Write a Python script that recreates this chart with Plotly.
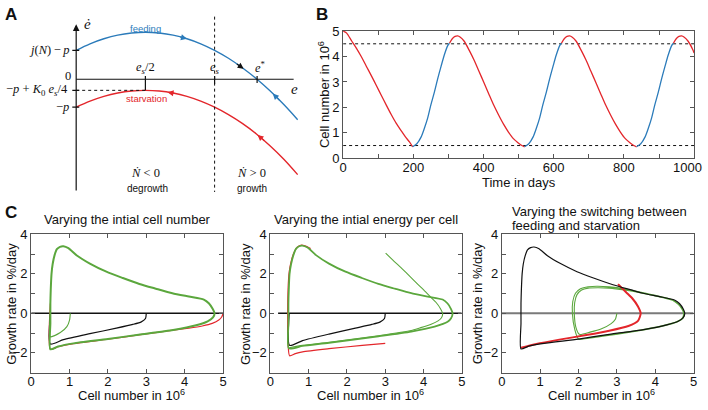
import numpy as np
import plotly.graph_objects as go

W, H = 708, 410
FONT = "Liberation Sans, Arial, Helvetica, sans-serif"
SERIF = "Liberation Serif, DejaVu Serif, serif"
RED = "#e3262b"
BLUE = "#2b7bba"
GREEN = "#5ba73d"
BLACK = "#111111"
FRAME = "#555555"
GREY = "#7a7a7a"

# ---------------- Panel A (schematic phase plane) ----------------
A_e = [0.0, 0.1, 0.2, 0.3, 0.4, 0.5, 0.6, 0.7, 0.8, 0.9, 1.0, 1.1, 1.2, 1.3, 1.4, 1.5, 1.6]
A_feed = [30, 36.8, 42, 45.8, 48, 48.8, 48, 45.8, 42, 36.8, 30, 21.8, 12, 0.8, -12, -26.3, -42]
A_starv = [-29, -22.7, -17.8, -14.3, -12.2, -11.5, -12.2, -14.3, -17.8, -22.7, -29, -36.7, -45.8, -56.5, -69, -83, -99]
A_es = 1.0          # e_s
A_estar = 1.307     # e*
A_jp = 30           # j(N)-p
A_mp = -29          # -p
A_peak = -11.5      # -p + K0 es/4

# ---------------- Panel B (cell number vs time) ----------------
B_starv_t = [0, 10, 24, 38, 52, 66, 81, 95, 109, 123, 137, 151, 165, 177, 189, 198, None,
             303, 311, 319, 326, 334, 345, 359, 373, 387, 401, 415, 429, 443, 457, 471, 485, 499, 509, 517, None,
             622, 630, 638, 645, 653, 664, 678, 692, 706, 720, 734, 748, 762, 776, 790, 804, 818, 828, 836, None,
             941, 949, 957, 964, 972, 983, 997, 1000]
B_starv_N = [5.0, 4.92, 4.62, 4.32, 3.99, 3.62, 3.23, 2.85, 2.47, 2.09, 1.72, 1.38, 1.09, 0.85, 0.64, 0.45, None,
             4.52, 4.7, 4.79, 4.81, 4.76, 4.6, 4.25, 3.86, 3.42, 2.98, 2.53, 2.09, 1.7, 1.34, 1.03, 0.77, 0.6, 0.5, 0.45, None,
             4.52, 4.7, 4.79, 4.81, 4.76, 4.6, 4.25, 3.86, 3.42, 2.98, 2.53, 2.09, 1.7, 1.34, 1.03, 0.77, 0.6, 0.5, 0.45, None,
             4.52, 4.7, 4.79, 4.81, 4.76, 4.6, 4.25, 4.14]
B_feed_t = [198, 210, 222, 232, 241, 250, 260, 269, 279, 288, 298, 303, None,
            517, 529, 541, 551, 560, 569, 579, 588, 598, 607, 617, 622, None,
            836, 848, 860, 870, 879, 888, 898, 907, 917, 926, 936, 941]
B_feed_N = [0.45, 0.57, 0.83, 1.2, 1.59, 2.1, 2.6, 3.1, 3.61, 4.05, 4.43, 4.52, None,
            0.45, 0.57, 0.83, 1.2, 1.59, 2.1, 2.6, 3.1, 3.61, 4.05, 4.43, 4.52, None,
            0.45, 0.57, 0.83, 1.2, 1.59, 2.1, 2.6, 3.1, 3.61, 4.05, 4.43, 4.52]
B_thresholds = [0.5, 4.5]
B_xticks = [0, 100, 200, 300, 400, 500, 600, 700, 800, 900, 1000]
B_xtext = ["0", "", "200", "", "400", "", "600", "", "800", "", ""]
B_last_label = "1000"
B_yticks = [0, 1, 2, 3, 4, 5]

# ---------------- Panel C ----------------
C_xticks = [0, 1, 2, 3, 4, 5]
C_yticks = [-3, -2, -1, 0, 1, 2, 3, 4]
C_ytext = ["", "\u22122", "", "0", "", "2", "", "4"]

# C1: varying initial cell number
C1_cycle_x = [0.50, 0.50, 0.50, 0.51, 0.53, 0.56, 0.61, 0.67, 0.75, 0.84, 0.97, 1.19, 1.53, 1.96, 2.39, 2.82, 3.25,
              3.68, 4.11, 4.50, 4.63, 4.73, 4.78, 4.74, 4.60, 4.30, 3.70, 2.80, 2.00, 1.10, 0.70, 0.50]
C1_cycle_y = [-1.82, -0.50, 0.50, 1.20, 2.00, 2.50, 2.95, 3.25, 3.37, 3.40, 3.30, 2.93, 2.52, 2.11, 1.79, 1.49, 1.25,
              1.02, 0.85, 0.70, 0.51, 0.23, 0.00, -0.20, -0.40, -0.60, -0.84, -1.08, -1.30, -1.52, -1.68, -1.82]
C1_red_x = [5.00, 4.97, 4.89, 4.72, 4.46, 4.11, 3.70, 2.80, 2.00, 1.10, 0.70, 0.50, 0.50]
C1_red_y = [0.00, -0.17, -0.34, -0.51, -0.64, -0.75, -0.85, -1.09, -1.31, -1.53, -1.69, -1.82, 0.50]
C1_black_x = [3.00, 2.98, 2.87, 2.65, 2.22, 1.53, 0.84, 0.50, 0.50]
C1_black_y = [0.00, -0.26, -0.43, -0.56, -0.75, -1.03, -1.33, -1.55, 0.00]
C1_thin_x = [1.02, 1.00, 0.93, 0.76, 0.50, 0.50]
C1_thin_y = [0.00, -0.34, -0.67, -0.97, -1.18, 0.00]
C1_zero_x = [0, 5]

# C2: varying initial energy per cell
C2_cycle_x = [0.48, 0.47, 0.47, 0.48, 0.50, 0.54, 0.60, 0.67, 0.75, 0.83, 0.97, 1.19, 1.53, 1.96, 2.39, 2.82, 3.25,
              3.68, 4.11, 4.50, 4.63, 4.72, 4.76, 4.72, 4.63, 4.29, 3.68, 2.82, 1.53, 0.84, 0.48]
C2_cycle_y = [-1.77, -0.50, 0.50, 1.20, 2.00, 2.50, 2.95, 3.28, 3.40, 3.43, 3.33, 2.95, 2.52, 2.11, 1.79, 1.49, 1.25,
              1.02, 0.85, 0.70, 0.50, 0.22, 0.00, -0.25, -0.43, -0.67, -0.92, -1.16, -1.49, -1.65, -1.77]
C2_thin_x = [3.01, 3.20, 3.43, 3.65, 3.86, 4.05, 4.20, 4.33, 4.44, 4.50, 4.47, 4.38, 4.20, 3.90, 3.68, 2.82, 1.53, 0.84, 0.49]
C2_thin_y = [3.05, 2.70, 2.28, 1.86, 1.46, 1.10, 0.80, 0.55, 0.25, 0.00, -0.22, -0.38, -0.55, -0.74, -0.87, -1.13, -1.46, -1.62, -1.74]
C2_red_x = [3.00, 2.40, 1.53, 0.84, 0.65, 0.50, 0.46, 0.45, 0.46, 0.49, 0.55, 0.62, 0.70, 0.79, 0.90, 1.05]
C2_red_y = [-1.52, -1.62, -1.79, -1.95, -2.04, -2.15, -1.50, 0.00, 1.20, 2.10, 2.70, 3.10, 3.35, 3.45, 3.42, 3.28]
C2_black_x = [3.00, 2.98, 2.87, 2.65, 2.22, 1.53, 0.84, 0.50, 0.49]
C2_black_y = [0.00, -0.26, -0.43, -0.56, -0.75, -1.05, -1.38, -1.62, 0.00]
C2_zero_x = [0.2, 5]

# C3: varying the switching between feeding and starvation
C3_black_x = [0.50, 0.50, 0.50, 0.51, 0.53, 0.56, 0.61, 0.67, 0.75, 0.84, 0.97, 1.19, 1.53, 1.96, 2.39, 2.82, 3.25,
              3.68, 4.11, 4.50, 4.63, 4.73, 4.77, 4.73, 4.60, 4.30, 3.70, 2.80, 2.00, 1.10, 0.70, 0.50]
C3_black_y = [-1.80, -0.50, 0.50, 1.20, 2.00, 2.50, 2.92, 3.22, 3.33, 3.36, 3.27, 2.92, 2.52, 2.11, 1.79, 1.50, 1.25,
              1.02, 0.85, 0.68, 0.50, 0.22, 0.00, -0.22, -0.40, -0.58, -0.82, -1.06, -1.30, -1.52, -1.66, -1.80]
C3_red_x = [3.03, 3.24, 3.41, 3.55, 3.62, 3.55, 3.30, 2.80, 2.20, 1.50, 0.90, 0.50]
C3_red_y = [1.48, 1.07, 0.74, 0.35, 0.00, -0.38, -0.64, -0.88, -1.10, -1.33, -1.55, -1.74]
C3_green_x = [3.00, 2.96, 2.85, 2.60, 2.30, 2.02, 1.93, 1.89, 1.90, 1.96, 2.08, 2.25, 2.50, 2.80, 3.20, 3.60, 4.00,
              4.45, 4.60, 4.70, 4.74, 4.70, 4.55, 4.20, 3.60, 3.00, 2.40, 2.00, 1.90, 1.84, 1.85, 1.92, 2.05, 2.25,
              2.50, 2.80, 3.20, 3.60, 4.00, 4.45, 4.62, 4.72, 4.76, 4.72, 4.57, 4.22, 3.62, 3.02, 2.42, 2.02]
C3_green_y = [0.00, -0.30, -0.52, -0.78, -0.95, -1.06, -0.70, 0.00, 0.55, 0.95, 1.18, 1.28, 1.30, 1.28, 1.18, 1.04, 0.88,
              0.66, 0.45, 0.20, 0.00, -0.25, -0.43, -0.62, -0.85, -1.03, -1.20, -1.30, -0.80, 0.00, 0.60, 1.02, 1.25, 1.35,
              1.37, 1.34, 1.24, 1.08, 0.91, 0.69, 0.46, 0.20, 0.00, -0.25, -0.44, -0.64, -0.87, -1.05, -1.22, -1.32]
C3_zero_x = [0, 5]


def px(x):
    return x / W


def py(y):
    return 1 - y / H


fig = go.Figure()


def add_line(xs, ys, color, width, xa, ya, dash=None, shape="spline", smoothing=0.6):
    fig.add_trace(go.Scatter(x=xs, y=ys, mode="lines", xaxis=xa, yaxis=ya, hoverinfo="skip",
                             connectgaps=False,
                             line=dict(color=color, width=width, dash=dash, shape=shape, smoothing=smoothing)))


# ---- Panel A traces ----
add_line(A_e, A_feed, BLUE, 1.4, "x", "y", smoothing=1.0)
add_line(A_e, A_starv, RED, 1.4, "x", "y", smoothing=1.0)

# ---- Panel B traces ----
for thr in B_thresholds:
    add_line([0, 1000], [thr, thr], BLACK, 1, "x2", "y2", dash="dot", shape="linear")
add_line(B_starv_t, B_starv_N, RED, 1.3, "x2", "y2", smoothing=0.8)
add_line(B_feed_t, B_feed_N, BLUE, 1.3, "x2", "y2", smoothing=0.8)

# ---- Panel C1 ----
add_line(C1_zero_x, [0, 0], BLACK, 1.5, "x3", "y3", shape="linear")
add_line(C1_red_x, C1_red_y, RED, 1.2, "x3", "y3")
add_line(C1_black_x, C1_black_y, BLACK, 1.2, "x3", "y3")
add_line(C1_thin_x, C1_thin_y, GREEN, 1.1, "x3", "y3")
add_line(C1_cycle_x, C1_cycle_y, GREEN, 2.0, "x3", "y3")

# ---- Panel C2 ----
add_line(C2_zero_x, [0, 0], BLACK, 1.5, "x4", "y4", shape="linear")
add_line(C2_red_x, C2_red_y, RED, 1.2, "x4", "y4")
add_line(C2_black_x, C2_black_y, BLACK, 1.2, "x4", "y4")
add_line(C2_thin_x, C2_thin_y, GREEN, 1.1, "x4", "y4")
add_line(C2_cycle_x, C2_cycle_y, GREEN, 1.8, "x4", "y4")

# ---- Panel C3 ----
add_line(C3_zero_x, [0, 0], GREY, 2.0, "x5", "y5", shape="linear")
add_line(C3_green_x, C3_green_y, GREEN, 1.1, "x5", "y5")
add_line(C3_red_x, C3_red_y, RED, 2.0, "x5", "y5")
add_line(C3_black_x, C3_black_y, BLACK, 1.2, "x5", "y5")

# ---- Panel A shapes ----
shapes = []
e_axis_end = 1.571
shapes.append(dict(type="line", xref="x", yref="y", x0=0, y0=0, x1=e_axis_end, y1=0,
                   line=dict(color=BLACK, width=1.2)))
shapes.append(dict(type="line", xref="x", yref="y", x0=A_es, y0=65, x1=A_es, y1=-117,
                   line=dict(color=BLACK, width=1, dash="dot")))
shapes.append(dict(type="line", xref="x", yref="y", x0=0, y0=A_peak, x1=A_es / 2, y1=A_peak,
                   line=dict(color=BLACK, width=1, dash="dot")))
for ex, lo in [(A_es / 2, A_peak), (A_es, -5), (A_estar, -4)]:
    shapes.append(dict(type="line", xref="x", yref="y", x0=ex, y0=3.5, x1=ex, y1=lo,
                       line=dict(color=BLACK, width=1.2)))
for yv in [A_jp, A_peak, A_mp]:
    shapes.append(dict(type="line", xref="x", yref="y", x0=-0.028, y0=yv, x1=0.022, y1=yv,
                       line=dict(color=BLACK, width=1.2)))

ann = []
# y-axis arrow
ann.append(dict(x=0, y=57, ax=0, ay=-117, xref="x", yref="y", axref="x", ayref="y", text="",
                showarrow=True, arrowhead=2, arrowsize=1.1, arrowwidth=1.2, arrowcolor=BLACK))


def curve_arrow(es, vs, e_tip, e_tail, color):
    yt = float(np.interp(e_tip, es, vs))
    ya = float(np.interp(e_tail, es, vs))
    ann.append(dict(x=e_tip, y=yt, ax=e_tail, ay=ya, xref="x", yref="y", axref="x", ayref="y",
                    text="", showarrow=True, arrowhead=2, arrowsize=1.0, arrowwidth=1.2,
                    arrowcolor=color, standoff=0))


curve_arrow(A_e, A_feed, 0.80, 0.74, BLUE)
curve_arrow(A_e, A_feed, 1.21, 1.15, BLACK)
curve_arrow(A_e, A_feed, 1.42, 1.48, BLUE)
curve_arrow(A_e, A_starv, 0.66, 0.72, RED)
curve_arrow(A_e, A_starv, 1.31, 1.37, RED)


def atext(text, x, y, size=12, color=BLACK, family=SERIF, xanchor="center", yanchor="middle"):
    ann.append(dict(text=text, x=x, y=y, xref="x", yref="y",
                    showarrow=False, xanchor=xanchor, yanchor=yanchor,
                    font=dict(size=size, color=color, family=family)))


atext("<i>\u0117</i>", 0.045, 57, size=15, xanchor="left")
atext("<i>j</i>(<i>N</i>)\u2009\u2212\u2009<i>p</i>", -0.04, A_jp, size=12.5, xanchor="right")
atext("0", -0.02, 3.5, size=12.5, xanchor="right")
atext("\u2212<i>p</i> + <i>K</i><sub>0</sub> <i>e<sub>s</sub></i>/4", -0.045, A_peak, size=12.5, xanchor="right")
atext("\u2212<i>p</i>", -0.04, A_mp, size=12.5, xanchor="right")
atext("<i>e<sub>s</sub></i>/2", 0.5, 12, size=12.5)
atext("<i>e<sub>s</sub></i>", 1.0, 12, size=12.5)
atext("<i>e</i><sup>*</sup>", 1.33, 13, size=12.5)
atext("<i>e</i>", 1.575, -10, size=15)
atext("feeding", 0.5, 53, size=9.5, color=BLUE, family=FONT)
atext("starvation", 0.51, -20, size=9.5, color=RED, family=FONT)
atext("<i>\u1E44</i> < 0", 0.5, -97, size=12.5)
atext("degrowth", 0.515, -113, size=10, family=FONT)
atext("<i>\u1E44</i> > 0", 1.265, -97, size=12.5)
atext("growth", 1.27, -113, size=10, family=FONT)


def ptext(text, x, y, size=13, xanchor="center", angle=0, bold=False):
    ann.append(dict(text=("<b>%s</b>" % text if bold else text), x=px(x), y=py(y), xref="paper", yref="paper",
                    showarrow=False, xanchor=xanchor, yanchor="middle", textangle=angle,
                    font=dict(size=size, color=BLACK, family=FONT)))


ptext("A", 7, 8, size=17, bold=True)
ptext("B", 322, 8, size=17, bold=True)
ptext("C", 7, 213, size=17, bold=True)

# Panel B axis titles and last (edge-clipped) tick label
ptext("Time in days", 520.5, 182)
ptext("Cell number in 10<sup>6</sup>", 323, 91, angle=-90)
ptext(B_last_label, 707.5, 166.5, xanchor="right")

# Panel C titles / axis titles
C_dom = [(27.5, 221.5), (269.5, 463), (503.5, 697.5)]
C_ytitle_x = [8, 244, 479]
for (l, r), yx in zip(C_dom, C_ytitle_x):
    ptext("Cell number in 10<sup>6</sup>", (l + r) / 2 + 4, 403)
    ptext("Growth rate in %/day", yx, 308, angle=-90)
ptext("Varying the intial cell number", 124.5, 220.5)
ptext("Varying the intial energy per cell", 366.5, 220.5)
ptext("Varying the switching between", 511.5, 212, xanchor="left")
ptext("feeding and starvation", 511.5, 227, xanchor="left")

common_ax = dict(ticks="inside", ticklen=4, tickwidth=1, tickcolor=FRAME, showline=True, linecolor=FRAME,
                 linewidth=1, mirror="ticks", showgrid=False, zeroline=False,
                 tickfont=dict(size=13, color=BLACK, family=FONT), fixedrange=True)

layout_axes = dict(
    xaxis=dict(domain=[0, 0.44], range=[-0.5214, 1.7036], visible=False, fixedrange=True),
    yaxis=dict(domain=[0.5, 1.0], range=[-130, 75], visible=False, fixedrange=True),
    xaxis2=dict(domain=[px(343), px(698)], range=[0, 1000], anchor="y2", tickmode="array",
                tickvals=B_xticks, ticktext=B_xtext, ticklabelstandoff=-3, **common_ax),
    yaxis2=dict(domain=[py(157), py(25)], range=[0, 5], anchor="x2", tickmode="array",
                tickvals=B_yticks, **common_ax),
)
for i, (l, r) in enumerate(C_dom):
    n = i + 3
    layout_axes["xaxis%d" % n] = dict(domain=[px(l), px(r)], range=[0, 5], anchor="y%d" % n,
                                      tickmode="array", tickvals=C_xticks, ticklabelstandoff=-3, **common_ax)
    layout_axes["yaxis%d" % n] = dict(domain=[py(379.5), py(236)], range=[-3, 4], anchor="x%d" % n,
                                      tickmode="array", tickvals=C_yticks, ticktext=C_ytext, **common_ax)

fig.update_layout(width=W, height=H, margin=dict(l=0, r=0, t=0, b=0), paper_bgcolor="white",
                  plot_bgcolor="white", showlegend=False, shapes=shapes, annotations=ann,
                  font=dict(family=FONT, color=BLACK), **layout_axes)

fig.write_html("out.html", config={"displayModeBar": False, "staticPlot": True},
               post_script="document.body.style.margin='0px';document.body.style.overflow='hidden';"
                           "document.documentElement.style.overflow='hidden';")
